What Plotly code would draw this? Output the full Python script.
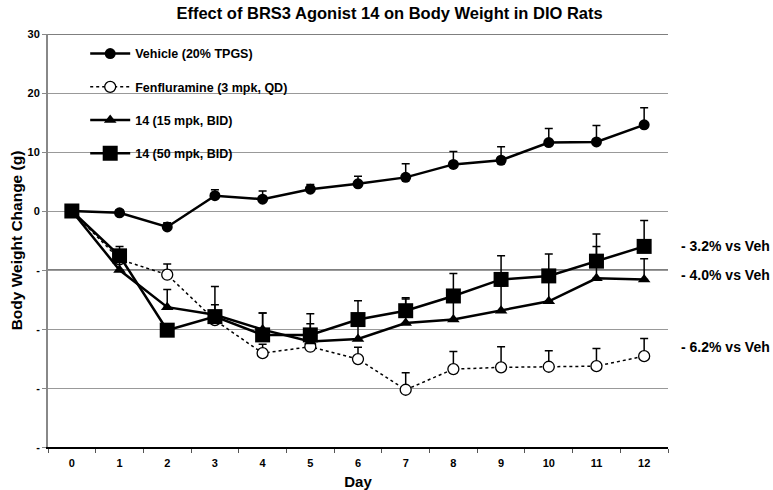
import plotly.graph_objects as go

days = [str(d) for d in range(13)]

vehicle = [0, -0.3, -2.7, 2.6, 2.0, 3.7, 4.6, 5.7, 7.9, 8.6, 11.6, 11.7, 14.6]
vehicle_err = [0, 0.5, 0.7, 1.0, 1.4, 0.8, 1.3, 2.3, 2.2, 2.3, 2.4, 2.8, 2.9]

fen = [0, -8.2, -10.8, -18.5, -24.1, -23.0, -25.1, -30.3, -26.8, -26.5, -26.4, -26.3, -24.6]
fen_err = [0, 1.5, 1.8, 1.0, 1.5, 1.0, 2.0, 2.9, 3.0, 3.5, 2.7, 3.0, 3.0]

c15 = [0, -10.0, -16.3, -17.6, -20.1, -22.1, -21.7, -19.0, -18.4, -16.9, -15.3, -11.4, -11.6]
c15_err = [0, 1.5, 3.0, 1.7, 2.8, 3.0, 3.0, 4.3, 3.8, 4.2, 4.0, 5.4, 3.5]

c50 = [0, -7.6, -20.2, -17.9, -21.0, -21.0, -18.4, -16.9, -14.4, -11.6, -11.0, -8.5, -6.0]
c50_err = [0, 1.6, 0.5, 5.1, 3.7, 3.6, 3.2, 2.0, 3.8, 4.0, 3.7, 4.6, 4.4]

y_tickvals = [-40, -30, -20, -10, 0, 10, 20, 30]
y_ticktext = ["-", "-", "-", "-", "0", "10", "20", "30"]

annot_text = ["- 3.2% vs Veh", "- 4.0% vs Veh", "- 6.2% vs Veh"]
annot_y = [-5.9, -10.8, -23.0]

FONT = "Liberation Sans, Arial"

def err(arr):
    return dict(type="data", array=arr, arrayminus=[0] * len(arr), symmetric=False,
                color="black", thickness=1.5, width=4)

fig = go.Figure()
fig.add_trace(go.Scatter(x=days, y=vehicle, name="Vehicle (20% TPGS)", legendgroup="a",
                         mode="lines+markers", line=dict(color="black", width=2.5),
                         marker=dict(symbol="circle", size=11, color="black"),
                         error_y=err(vehicle_err)))
fig.add_trace(go.Scatter(x=days, y=fen, name="Fenfluramine (3 mpk, QD)", legendgroup="b",
                         mode="lines+markers", line=dict(color="black", width=1.5, dash="dot"),
                         marker=dict(symbol="circle", size=11, color="white",
                                     line=dict(color="black", width=1.3)),
                         error_y=err(fen_err)))
fig.add_trace(go.Scatter(x=days, y=c15, name="14 (15 mpk, BID)", legendgroup="c",
                         mode="lines+markers", line=dict(color="black", width=2.5),
                         marker=dict(symbol="triangle-up", size=11, color="black"),
                         error_y=err(c15_err)))
fig.add_trace(go.Scatter(x=days, y=c50, name="14 (50 mpk, BID)", legendgroup="d",
                         mode="lines+markers", line=dict(color="black", width=2.5),
                         marker=dict(symbol="square", size=15, color="black"),
                         error_y=err(c50_err)))

for yv in [-10, 30]:
    fig.add_shape(type="line", xref="paper", x0=0, x1=1, yref="y", y0=yv, y1=yv,
                  line=dict(color="black", width=1.2), layer="between")
# white legend backdrop hiding the gridlines behind the legend
fig.add_shape(type="rect", xref="paper", x0=0.0403, x1=0.434, yref="y", y0=7, y1=28,
              fillcolor="white", line=dict(width=0), layer="between")

for t, yv in zip(annot_text, annot_y):
    fig.add_annotation(text=t, xref="paper", x=1.018, xanchor="left", yref="y", y=yv,
                       showarrow=False, font=dict(family=FONT, size=14, color="black", weight="bold"))

fig.update_layout(
    width=773, height=490,
    margin=dict(l=48, r=105, t=34, b=43, autoexpand=False),
    paper_bgcolor="white", plot_bgcolor="white",
    font=dict(family=FONT, color="black", weight="bold"),
    title=dict(text="Effect of BRS3 Agonist 14 on Body Weight in DIO Rats",
               x=0.504, xanchor="center", y=0.972, yanchor="middle",
               font=dict(family=FONT, size=16.5, weight="bold", color="black")),
    showlegend=True,
    legend=dict(x=0.06, xanchor="left", y=0.988, yanchor="top", bgcolor="rgba(0,0,0,0)",
                tracegroupgap=14, font=dict(family=FONT, size=12.5, weight="bold"),
                itemwidth=40),
    xaxis=dict(type="category", categoryorder="array", categoryarray=days,
               range=[-0.5, 12.5], tickson="boundaries", ticks="outside", ticklen=4,
               tickcolor="#555", showline=True, linecolor="black", linewidth=1.5,
               showgrid=False, tickfont=dict(size=11, weight="bold"), automargin=False,
               ticklabelstandoff=5,
               title=dict(text="Day", font=dict(size=15, weight="bold"), standoff=14)),
    yaxis=dict(range=[-40, 30], tickvals=y_tickvals, ticktext=y_ticktext,
               ticks="outside", ticklen=4, tickcolor="#888",
               showline=True, linecolor="#888", linewidth=2,
               showgrid=True, gridcolor="#999", gridwidth=1, zeroline=False,
               tickfont=dict(size=11, weight="bold"), automargin=False,
               title=dict(text="Body Weight Change (g)", font=dict(size=15.5, weight="bold"), standoff=1)),
)

fig.write_html("out.html", config={"displayModeBar": False},
               post_script="document.body.style.margin='0';")
